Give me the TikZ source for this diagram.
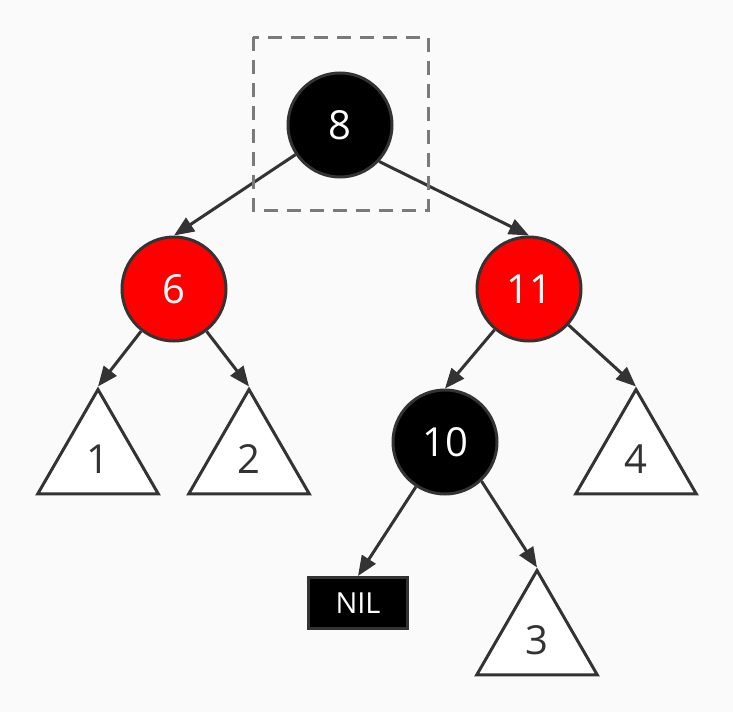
\documentclass[tikz,border=0pt]{standalone}
\usepackage{fontspec}
\setmainfont{Open Sans}
\usetikzlibrary{arrows.meta,shapes.geometric}
\definecolor{edgegray}{HTML}{333333}
\definecolor{boxgray}{HTML}{7A7A7A}
\definecolor{bggray}{HTML}{FAFAFA}
\begin{document}
\begin{tikzpicture}[x=1pt,y=-1pt,line width=3pt,
rbnode/.style={draw=edgegray,circle,minimum size=104pt,inner sep=0pt,text=white,font=\fontsize{40}{48}\selectfont},
blacknode/.style={rbnode,fill=black},
rednode/.style={rbnode,fill=red},
subtree/.style={draw=edgegray,fill=white,regular polygon,regular polygon sides=3,minimum size=139pt,inner sep=0pt,text=edgegray,font=\fontsize{40}{48}\selectfont},
nilleaf/.style={draw=edgegray,fill=black,rectangle,minimum width=99pt,minimum height=51pt,inner sep=0pt,text=white,font=\fontsize{29}{34}\selectfont},
edge/.style={draw=edgegray,-{Triangle[length=20pt,width=16pt]}},
focusbox/.style={draw=boxgray,dash pattern=on 14pt off 9pt}]
\fill[bggray] (0,0) rectangle (733,712);
\useasboundingbox (0,0) rectangle (733,712);
% inner nodes
\draw (340,125) node[blacknode] (n8) {8};
\draw (174,289) node[rednode] (n6) {6};
\draw (529,289) node[rednode] (n11) {11};
\draw (445,442) node[blacknode] (n10) {10};
% subtrees and leaf
\draw (98,459) node[subtree] (t1) {1};
\draw (249,459) node[subtree] (t2) {2};
\draw (636,459) node[subtree] (t4) {4};
\draw (537,640) node[subtree] (t3) {3};
\draw (358,603) node[nilleaf] (nil) {NIL};
% edges
\draw[edge] (n8) -- (n6.north);
\draw[edge] (n8.-43) -- (n11.north);
\draw[edge] (n6) -- (t1.corner 1);
\draw[edge] (n6) -- (t2.corner 1);
\draw[edge] (n11) -- (n10.north);
\draw[edge] (n11) -- (t4.corner 1);
\draw[edge] (n10) -- (nil.north);
\draw[edge] (n10.-47) -- (t3.corner 1);
\draw[focusbox] (253,37) rectangle (428,210);
\end{tikzpicture}
\end{document}
